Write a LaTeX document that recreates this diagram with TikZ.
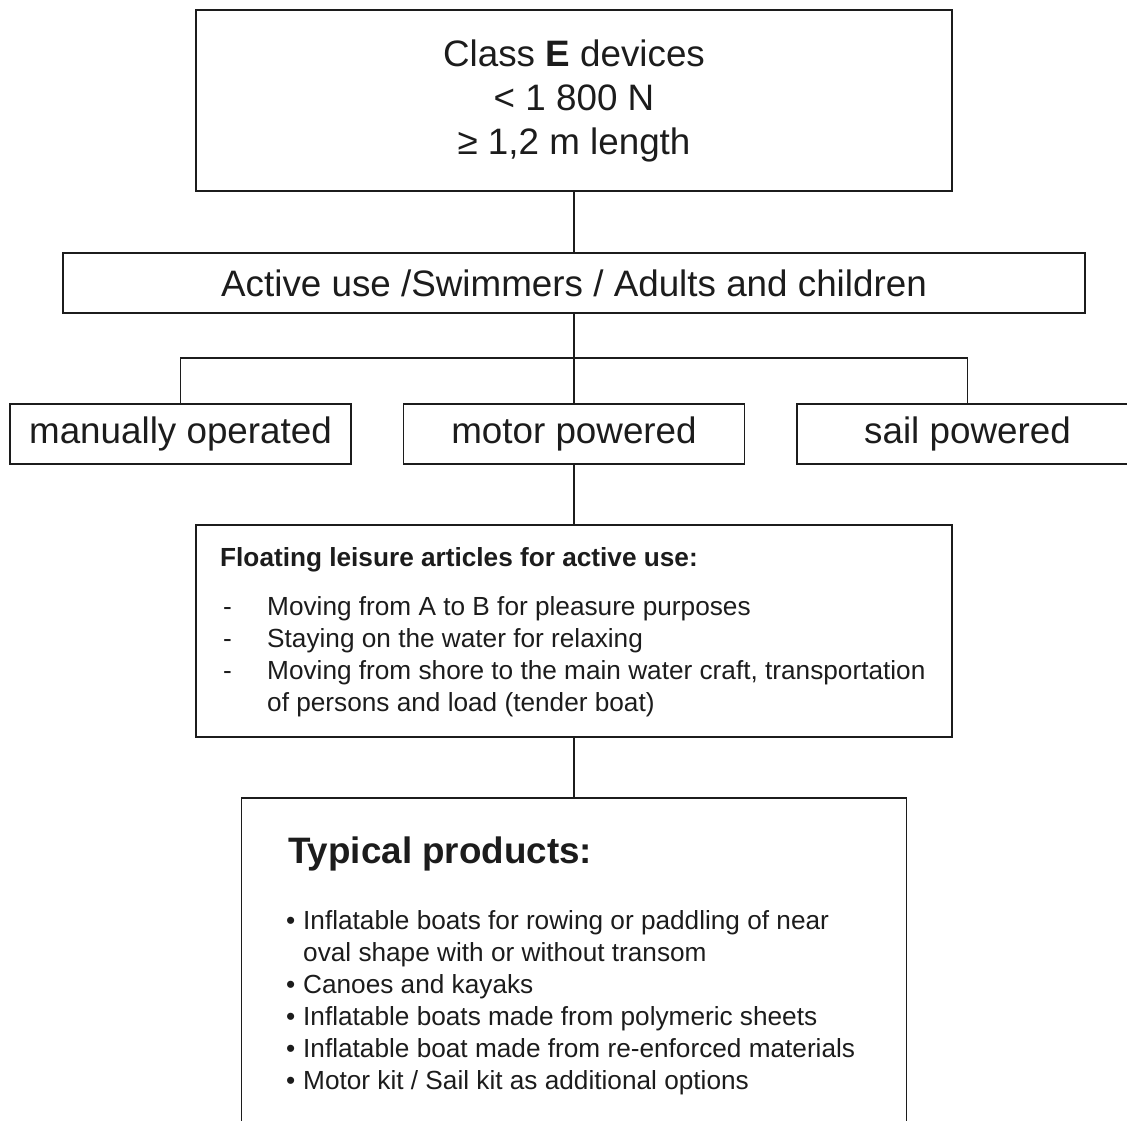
\documentclass[tikz,border=0pt]{standalone}
\usepackage{fontspec}
\setmainfont{Liberation Sans}
\usepackage{tikz}
\usetikzlibrary{positioning}

\definecolor{ink}{RGB}{28,28,28}
\newcommand{\bigtxt}{\fontsize{36.8}{44}\selectfont}
\newcommand{\smalltxt}{\fontsize{26.2}{32}\selectfont}

\begin{document}
\begin{tikzpicture}[x=1pt, y=-1pt, color=ink,
  box/.style={rectangle, draw, line width=1.8pt, inner sep=0pt},
  wire/.style={line width=1.6pt},
  txt/.style={inner sep=0pt, anchor=base west}]
\useasboundingbox (0,0) rectangle (1127,1121);

% boxes
\node[box, minimum width=756pt, minimum height=181pt, align=center, font=\bigtxt] (cls) at (574,100.5)
  {Class \textbf{E} devices\\ < 1 800 N\\ ≥ 1,2 m length};
\node[box, minimum width=1022pt, minimum height=60pt, font=\bigtxt] (use) at (574,283)
  {Active use /Swimmers / Adults and children};
\node[box, minimum width=341pt, minimum height=60pt, font=\bigtxt] (manual) at (180.5,434) {manually operated};
\node[box, minimum width=341pt, minimum height=60pt, font=\bigtxt] (motor) at (574,434) {motor powered};
\node[box, minimum width=341pt, minimum height=60pt, font=\bigtxt] (sail) at (967.5,434) {sail powered};
\node[box, minimum width=756pt, minimum height=212pt] (flt) at (574,631) {};
\node[box, minimum width=665pt, minimum height=342pt] (typ) at (574,969) {};

% texts in the two lower boxes
\node[txt, font=\smalltxt\bfseries] (flthead) at (220,566) {Floating leisure articles for active use:};
\node[txt, font=\smalltxt] (fltlist) at (223,615) {\begin{tabular}[t]{@{}p{44pt}@{}l@{}}
  - & Moving from A to B for pleasure purposes\\
  - & Staying on the water for relaxing\\
  - & Moving from shore to the main water craft, transportation\\
    & of persons and load (tender boat)
\end{tabular}};
\node[txt, font=\bigtxt\bfseries] (typhead) at (288,863) {Typical products:};
\node[txt, font=\smalltxt] (typlist) at (286,929) {\begin{tabular}[t]{@{}p{17pt}@{}l@{}}
  • & Inflatable boats for rowing or paddling of near\\
    & oval shape with or without transom\\
  • & Canoes and kayaks\\
  • & Inflatable boats made from polymeric sheets\\
  • & Inflatable boat made from re-enforced materials\\
  • & Motor kit / Sail kit as additional options
\end{tabular}};

% connectors
\coordinate (split) at (574,358);
\draw[wire] (cls) -- (use);
\draw[wire] (use) -- (split);
\draw[wire] (manual.north) |- (split) -| (sail.north);
\draw[wire] (split) -- (motor);
\draw[wire] (motor) -- (flt);
\draw[wire] (flt) -- (typ);
\end{tikzpicture}
\end{document}
